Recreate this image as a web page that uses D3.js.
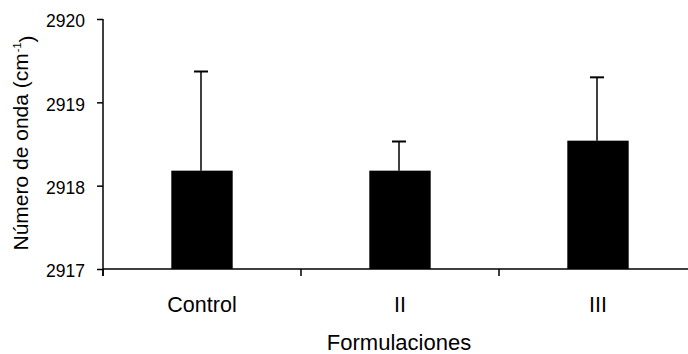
<!DOCTYPE html>
<html>
<head>
<meta charset="utf-8">
<script src="https://cdn.jsdelivr.net/npm/d3@7"></script>
<style>
  body { margin: 0; background: #fff; }
  text { font-family: "Liberation Sans", Arial, sans-serif; fill: #000; }
</style>
</head>
<body>
<script>
// data
var categories = ["Control", "II", "III"];
var means = [2918.18, 2918.18, 2918.54];
var errors = [1.19, 0.35, 0.76];
var yTicks = [2917, 2918, 2919, 2920];

var width = 688, height = 354;
var margin = {top: 19, right: 0, bottom: 85, left: 103};

var svg = d3.select("body")
  .append("svg")
  .attr("width", width)
  .attr("height", height);

var g = svg.append("g")
  .attr("transform", "translate(" + margin.left + "," + margin.top + ")");

var innerW = 594; // axis runs past the right edge
var innerH = height - margin.top - margin.bottom;

var x = d3.scaleBand()
  .domain(categories)
  .range([0, innerW])
  .paddingInner(0.69)
  .paddingOuter(0.345);

var xTicks = d3.scaleBand().domain(categories).range([0, innerW]);

var y = d3.scaleLinear()
  .domain([2917, 2920])
  .range([innerH, 0]);

// bars
g.selectAll("rect.bar")
  .data(categories)
  .enter()
  .append("rect")
  .attr("class", "bar")
  .attr("x", function (d) { return x(d); })
  .attr("width", x.bandwidth())
  .attr("y", function (d, i) { return y(means[i]); })
  .attr("height", function (d, i) { return innerH - y(means[i]); })
  .style("fill", "#000");

// error bars (upper only)
var err = g.selectAll("g.err")
  .data(categories)
  .enter()
  .append("g")
  .attr("class", "err");

err.append("line")
  .attr("x1", function (d) { return x(d) + x.bandwidth() / 2 - 1; })
  .attr("x2", function (d) { return x(d) + x.bandwidth() / 2 - 1; })
  .attr("y1", function (d, i) { return y(means[i]); })
  .attr("y2", function (d, i) { return y(means[i] + errors[i]); })
  .attr("stroke", "#000")
  .attr("stroke-width", 1.5);

err.append("line")
  .attr("x1", function (d) { return x(d) + x.bandwidth() / 2 - 8; })
  .attr("x2", function (d) { return x(d) + x.bandwidth() / 2 + 6; })
  .attr("y1", function (d, i) { return y(means[i] + errors[i]); })
  .attr("y2", function (d, i) { return y(means[i] + errors[i]); })
  .attr("stroke", "#000")
  .attr("stroke-width", 2);

// y axis
var yAxis = g.append("g")
  .call(d3.axisLeft(y).tickValues(yTicks).tickSize(6).tickPadding(12).tickFormat(d3.format("d")));
yAxis.select(".domain").attr("d", "M0," + (innerH + 7) + "V0").attr("stroke-width", 1.5);
yAxis.selectAll(".tick line").attr("stroke-width", 1.5);
yAxis.selectAll("text").style("font-size", "17.5px").attr("dy", "0.45em");

// x axis with ticks between categories
var xAxis = g.append("g").attr("transform", "translate(0," + innerH + ")");
xAxis.append("line")
  .attr("x1", 0).attr("x2", innerW)
  .attr("stroke", "#000").attr("stroke-width", 1.5);
xAxis.selectAll("line.sep")
  .data(categories)
  .enter()
  .append("line")
  .attr("class", "sep")
  .attr("x1", function (d) { return xTicks(d); })
  .attr("x2", function (d) { return xTicks(d); })
  .attr("y1", 0).attr("y2", 7)
  .attr("stroke", "#000").attr("stroke-width", 1.5);
xAxis.selectAll("text.cat")
  .data(categories)
  .enter()
  .append("text")
  .attr("class", "cat")
  .attr("x", function (d) { return x(d) + x.bandwidth() / 2; })
  .attr("y", 43)
  .attr("text-anchor", "middle")
  .style("font-size", "21.5px")
  .text(function (d) { return d; });

// axis titles
svg.append("text")
  .attr("x", 399)
  .attr("y", 350)
  .attr("text-anchor", "middle")
  .style("font-size", "22px")
  .text("Formulaciones");

var yt = svg.append("text")
  .attr("transform", "translate(28,143) rotate(-90)")
  .attr("text-anchor", "middle")
  .style("font-size", "21px");
yt.append("tspan").text("Número de onda (cm");
yt.append("tspan").attr("dx", "1").attr("dy", "-0.6em").style("font-size", "11px").text("-1");
yt.append("tspan").attr("dy", "0.6em").text(")");
</script>
</body>
</html>
